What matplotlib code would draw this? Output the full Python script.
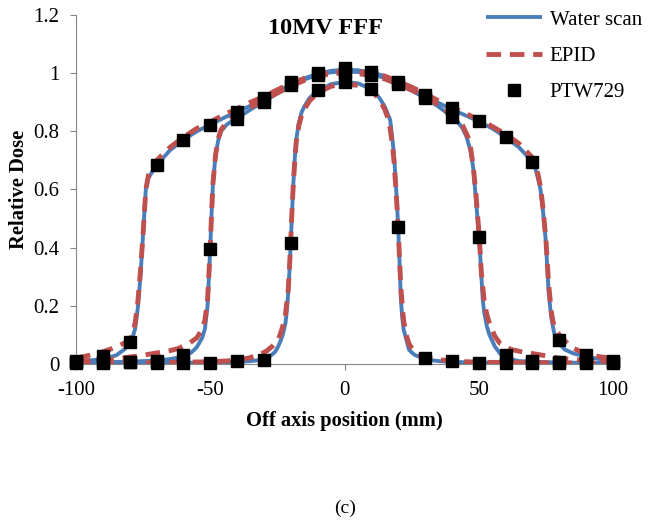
import matplotlib
matplotlib.use("Agg")
import matplotlib.pyplot as plt

# ---- data ----
# water scan, small field (about 4 cm)
water_s_x = [-100, -80, -60, -50, -40, -35, -30, -28, -26, -25, -24, -23, -22, -21.5, -21, -20.5, -20, -19.5, -19, -18.5, -18, -17, -16, -15, -13, -10, -5, 0,
             5, 10, 13, 15, 16, 17, 18, 18.5, 19, 19.5, 20, 20.5, 21, 21.5, 22, 23, 24, 25, 26, 28, 30, 35, 40, 50, 60, 80, 100]
water_s_y = [0.002, 0.003, 0.004, 0.005, 0.007, 0.01, 0.015, 0.025, 0.04, 0.055, 0.075, 0.1, 0.14, 0.18, 0.24, 0.32, 0.42, 0.53, 0.63, 0.71, 0.77, 0.83, 0.865, 0.885, 0.915, 0.94, 0.962, 0.97,
             0.965, 0.945, 0.915, 0.885, 0.862, 0.84, 0.76, 0.71, 0.64, 0.56, 0.47, 0.35, 0.22, 0.16, 0.12, 0.085, 0.05, 0.04, 0.032, 0.024, 0.016, 0.01, 0.007, 0.005, 0.004, 0.003, 0.002]

# water scan, medium field (about 10 cm)
water_m_x = [-100, -90, -80, -70, -65, -60, -57, -55, -53, -52, -51, -50.5, -50, -49.5, -49, -48, -47, -46, -44, -42, -40, -35, -30, -25, -20, -15, -10, -5, 0,
             5, 10, 15, 20, 25, 30, 35, 40, 42, 44, 45.5, 47, 48, 49, 50, 50.5, 51, 51.5, 52, 53, 54, 56, 58, 60, 65, 70, 80, 90, 100]
water_m_y = [0.004, 0.006, 0.008, 0.012, 0.017, 0.025, 0.04, 0.058, 0.09, 0.12, 0.2, 0.3, 0.4, 0.52, 0.62, 0.72, 0.77, 0.8, 0.822, 0.835, 0.845, 0.875, 0.903, 0.93, 0.957, 0.978, 0.995, 1.003, 1.006,
             1.004, 0.998, 0.983, 0.962, 0.94, 0.915, 0.885, 0.85, 0.835, 0.81, 0.78, 0.73, 0.67, 0.56, 0.45, 0.38, 0.3, 0.22, 0.18, 0.13, 0.1, 0.06, 0.035, 0.02, 0.01, 0.008, 0.005, 0.004, 0.004]

# water scan, large field (about 15 cm)
water_l_x = [-100, -95, -90, -85, -82, -80, -79, -78, -77, -76, -75, -74, -73, -72, -71, -70, -65, -60, -55, -50, -45, -40, -35, -30, -25, -20, -15, -10, -5, 0,
             5, 10, 15, 20, 25, 30, 35, 40, 45, 50, 55, 60, 65, 70, 71, 72, 73, 74, 75, 76, 77, 78, 79, 80, 82, 85, 90, 95, 100]
water_l_y = [0.008, 0.012, 0.017, 0.03, 0.05, 0.075, 0.09, 0.12, 0.19, 0.3, 0.45, 0.6, 0.64, 0.655, 0.67, 0.683, 0.735, 0.771, 0.8, 0.823, 0.846, 0.868, 0.888, 0.91, 0.935, 0.962, 0.982, 0.998, 1.008, 1.012,
             1.01, 1.003, 0.99, 0.968, 0.946, 0.922, 0.898, 0.875, 0.855, 0.834, 0.81, 0.78, 0.745, 0.695, 0.675, 0.64, 0.6, 0.52, 0.42, 0.25, 0.16, 0.11, 0.085, 0.07, 0.05, 0.037, 0.025, 0.017, 0.012]

# EPID, small field
epid_s_x = [-100, -80, -60, -50, -45, -40, -36, -32, -29, -27, -25, -24, -23, -22, -21, -20.5, -20, -19.5, -19, -18.5, -18, -17, -16, -15, -13, -10, -5, 0,
            5, 10, 13, 15, 16, 17, 18, 18.5, 19, 19.5, 20, 20.5, 21, 22, 23, 24, 25, 27, 29, 32, 36, 40, 45, 50, 60, 80, 100]
epid_s_y = [0.003, 0.004, 0.006, 0.008, 0.01, 0.013, 0.02, 0.03, 0.045, 0.06, 0.08, 0.1, 0.13, 0.17, 0.25, 0.33, 0.43, 0.54, 0.63, 0.7, 0.76, 0.82, 0.855, 0.875, 0.905, 0.932, 0.955, 0.963,
            0.958, 0.94, 0.91, 0.875, 0.85, 0.81, 0.74, 0.69, 0.62, 0.55, 0.47, 0.36, 0.26, 0.15, 0.1, 0.07, 0.055, 0.035, 0.026, 0.02, 0.014, 0.011, 0.008, 0.006, 0.005, 0.004, 0.003]

# EPID, medium field
epid_m_x = [-100, -90, -85, -80, -75, -70, -65, -62, -58, -55, -53, -52, -51, -50.5, -50, -49.5, -49, -48, -47, -46, -44, -42, -40, -35, -30, -25, -20, -15, -10, -5, 0,
            5, 10, 15, 20, 25, 30, 35, 40, 42, 44, 46, 47, 48, 49, 50, 50.5, 51, 52, 53, 54, 56, 58, 62, 67, 72, 80, 90, 100]
epid_m_y = [0.01, 0.013, 0.018, 0.024, 0.03, 0.038, 0.046, 0.053, 0.07, 0.09, 0.12, 0.15, 0.22, 0.31, 0.4, 0.52, 0.62, 0.72, 0.775, 0.805, 0.83, 0.845, 0.855, 0.882, 0.908, 0.932, 0.955, 0.975, 0.99, 0.998, 1.0,
            0.998, 0.993, 0.98, 0.962, 0.942, 0.92, 0.89, 0.855, 0.84, 0.82, 0.78, 0.74, 0.675, 0.58, 0.46, 0.39, 0.31, 0.22, 0.17, 0.14, 0.095, 0.07, 0.05, 0.04, 0.033, 0.02, 0.012, 0.01]

# EPID, large field
epid_l_x = [-100, -95, -90, -85, -82, -80, -79, -78, -77, -76, -75, -74, -73, -72, -70, -65, -60, -55, -50, -45, -40, -35, -30, -25, -20, -15, -10, -5, 0,
            5, 10, 15, 20, 25, 30, 35, 40, 45, 50, 55, 60, 65, 70, 72, 73, 74, 75, 76, 77, 78, 80, 82, 85, 90, 95, 100]
epid_l_y = [0.02, 0.03, 0.042, 0.058, 0.072, 0.085, 0.1, 0.14, 0.21, 0.32, 0.45, 0.6, 0.65, 0.675, 0.7, 0.745, 0.78, 0.81, 0.832, 0.857, 0.878, 0.9, 0.92, 0.943, 0.965, 0.982, 0.995, 1.003, 1.005,
            1.005, 1.0, 0.99, 0.972, 0.952, 0.93, 0.905, 0.883, 0.862, 0.84, 0.817, 0.79, 0.758, 0.71, 0.655, 0.61, 0.53, 0.43, 0.28, 0.18, 0.13, 0.1, 0.08, 0.055, 0.035, 0.025, 0.02]

# PTW729 chamber array, every 10 mm
ptw_x = [-100, -90, -80, -70, -60, -50, -40, -30, -20, -10, 0, 10, 20, 30, 40, 50, 60, 70, 80, 90, 100]
ptw_s = [0.005, 0.005, 0.006, 0.005, 0.005, 0.005, 0.01, 0.015, 0.417, 0.943, 0.97, 0.947, 0.471, 0.021, 0.01, 0.005, 0.005, 0.005, 0.005, 0.005, 0.005]
ptw_m = [0.008, 0.008, 0.006, 0.012, 0.032, 0.396, 0.844, 0.902, 0.96, 0.995, 1.005, 0.995, 0.963, 0.916, 0.85, 0.437, 0.032, 0.01, 0.006, 0.006, 0.006]
ptw_l = [0.012, 0.028, 0.076, 0.683, 0.771, 0.823, 0.868, 0.916, 0.97, 1.0, 1.019, 1.005, 0.97, 0.926, 0.88, 0.834, 0.78, 0.695, 0.084, 0.03, 0.012]

x_ticks = [-100, -50, 0, 50, 100]
y_ticks = [0, 0.2, 0.4, 0.6, 0.8, 1.0, 1.2]
y_labels = ["0", "0.2", "0.4", "0.6", "0.8", "1", "1.2"]

blue = "#4A7EBB"
red = "#C0504D"
grey = "#868686"

plt.rcParams["font.family"] = ["Liberation Serif", "DejaVu Serif"]
plt.rcParams["axes.unicode_minus"] = False

fig = plt.figure(figsize=(6.52, 5.25), dpi=100)
ax = fig.add_axes([76 / 652, 161 / 525, 537 / 652, 349 / 525])

water = [(water_s_x, water_s_y), (water_m_x, water_m_y), (water_l_x, water_l_y)]
epid = [(epid_s_x, epid_s_y), (epid_m_x, epid_m_y), (epid_l_x, epid_l_y)]

for i, (wx, wy) in enumerate(water):
    ax.plot(wx, wy, color=blue, lw=2.8, solid_capstyle="butt",
            label="Water scan" if i == 0 else None, zorder=2)
for i, (ex, ey) in enumerate(epid):
    ax.plot(ex, ey, color=red, lw=3.5, dashes=(3.0, 1.8), dash_capstyle="butt",
            label="EPID" if i == 0 else None, zorder=3)
for i, py in enumerate([ptw_s, ptw_m, ptw_l]):
    ax.plot(ptw_x, py, ls="none", marker="s", ms=8, color="black",
            label="PTW729" if i == 0 else None, zorder=4, clip_on=False)

ax.set_xlim(-100, 100)
ax.set_ylim(0, 1.2)
ax.set_xticks(x_ticks)
ax.set_yticks(y_ticks)
ax.set_yticklabels(y_labels)

for side in ["top", "right"]:
    ax.spines[side].set_visible(False)
for side in ["left", "bottom"]:
    ax.spines[side].set_color(grey)
    ax.spines[side].set_linewidth(0.8)
ax.tick_params(axis="both", direction="out", length=4, width=0.8, color=grey,
               labelsize=15, pad=8)

ax.set_xlabel("Off axis position (mm)", fontsize=14.8, fontweight="bold", labelpad=8)
ax.set_ylabel("Relative Dose", fontsize=14.8, fontweight="bold", labelpad=3)

fig.text(325 / 652, 1 - 29 / 525, "10MV FFF", ha="center", va="center",
         fontsize=17.5, fontweight="bold")
fig.text(345 / 652, 1 - 508 / 525, "(c)", ha="center", va="center", fontsize=14)

fig.legend(loc="upper left", bbox_to_anchor=(486 / 652, 1 - 10 / 525), frameon=False,
           fontsize=15, handlelength=2.7, handletextpad=0.35, labelspacing=0.8,
           borderpad=0, borderaxespad=0)

fig.savefig("out.png", dpi=100)
